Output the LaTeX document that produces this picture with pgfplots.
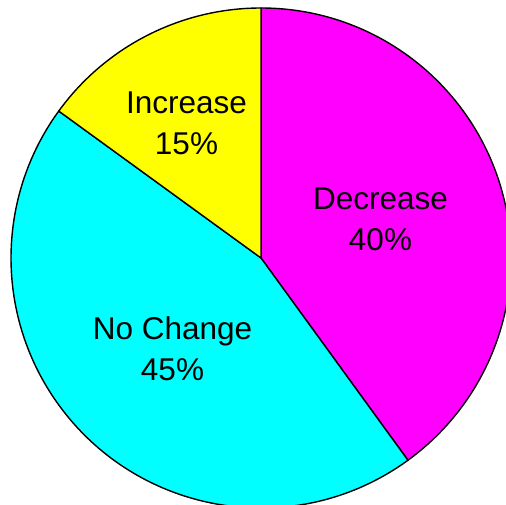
\documentclass[border=0pt]{standalone}
\usepackage{pgfplots}
\pgfplotsset{compat=1.18}
\usepackage{fontspec}
\setmainfont{Liberation Sans}
\definecolor{pmag}{RGB}{255,0,255}
\definecolor{pcyan}{RGB}{0,255,255}
\definecolor{pyel}{RGB}{255,255,0}
\begin{document}
\begin{tikzpicture}
\useasboundingbox (0,11bp) rectangle (506bp,516bp);
\begin{pgfinterruptboundingbox}
\clip (0,11bp) rectangle (506bp,516bp);
\begin{axis}[
  at={(0,0)}, anchor=south west,
  scale only axis, width=522bp, height=516bp,
  xmin=-261, xmax=261, ymin=-258, ymax=258,
  hide axis, clip=false,
]
% shares (percent), clockwise from 12 o'clock: Decrease 40, No Change 45, Increase 15
\filldraw[fill=pmag, draw=black, line width=1.4bp, line join=round]
  (axis cs:0,0) -- (axis cs:0,250) arc[start angle=90, end angle={90-3.6*40}, radius=250bp] -- cycle;
\filldraw[fill=pcyan, draw=black, line width=1.4bp, line join=round]
  (axis cs:0,0) -- (axis cs:{250*cos(90-3.6*40)},{250*sin(90-3.6*40)}) arc[start angle={90-3.6*40}, end angle={90-3.6*85}, radius=250bp] -- cycle;
\filldraw[fill=pyel, draw=black, line width=1.4bp, line join=round]
  (axis cs:0,0) -- (axis cs:{250*cos(90-3.6*85)},{250*sin(90-3.6*85)}) arc[start angle={90-3.6*85}, end angle={90-3.6*100}, radius=250bp] -- cycle;
\node[align=center, inner sep=0pt, font=\fontsize{31.5bp}{41bp}\selectfont] at (axis cs:119.5,39) {Decrease\\40\%};
\node[align=center, inner sep=0pt, font=\fontsize{31.5bp}{41bp}\selectfont] at (axis cs:-88.5,-91) {No Change\\45\%};
\node[align=center, inner sep=0pt, font=\fontsize{31.5bp}{41bp}\selectfont] at (axis cs:-74.5,134.5) {Increase\\15\%};
\end{axis}
\end{pgfinterruptboundingbox}
\end{tikzpicture}
\end{document}
